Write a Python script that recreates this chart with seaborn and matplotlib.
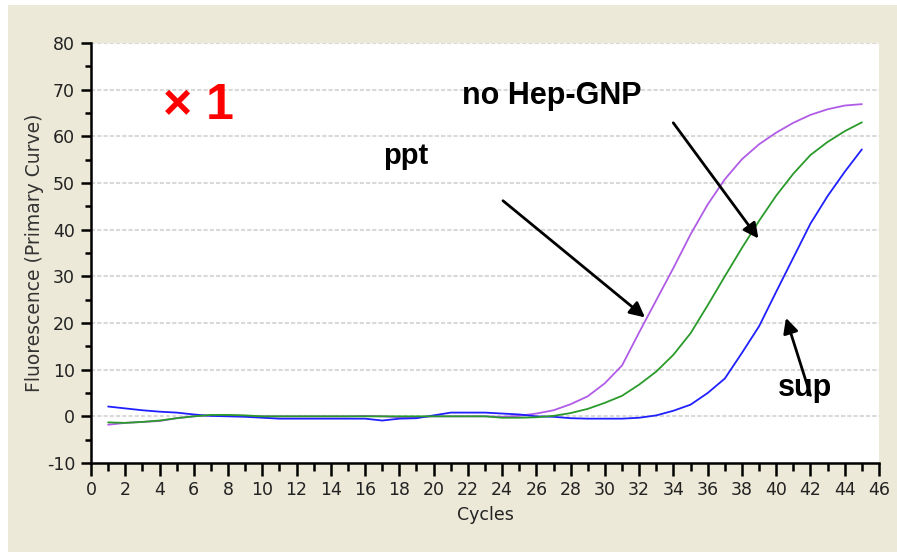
import matplotlib
matplotlib.use("Agg")
import matplotlib.pyplot as plt
from matplotlib import font_manager as fm
from matplotlib.patches import Rectangle
import seaborn as sns
import pandas as pd

# ---------------- data ----------------
cycles = list(range(1, 46))
ppt = [-1.8, -1.4, -1.2, -1.0, -0.4, 0.0, 0.2, 0.2, 0.1, 0.0,
       0.0, 0.0, 0.0, 0.0, 0.0, 0.1, 0.0, -0.2, -0.2, 0.0,
       0.0, 0.0, 0.0, -0.1, 0.1, 0.6, 1.3, 2.6, 4.3, 7.1,
       10.9, 18.0, 24.9, 31.8, 39.0, 45.4, 50.8, 55.1, 58.3, 60.8,
       62.9, 64.6, 65.8, 66.6, 66.9]
no_hep = [-1.3, -1.4, -1.2, -0.9, -0.4, 0.0, 0.3, 0.3, 0.2, 0.0,
          0.0, 0.0, 0.0, 0.0, 0.0, 0.0, 0.0, 0.0, 0.0, 0.0,
          0.0, 0.0, 0.0, -0.3, -0.3, -0.2, 0.1, 0.7, 1.6, 2.9,
          4.4, 6.8, 9.6, 13.2, 17.8, 23.8, 30.0, 36.1, 41.9, 47.3,
          52.0, 56.0, 58.8, 61.1, 63.0]
sup = [2.1, 1.7, 1.3, 1.0, 0.8, 0.4, 0.1, 0.0, -0.1, -0.3,
       -0.5, -0.5, -0.5, -0.5, -0.5, -0.5, -0.9, -0.5, -0.4, 0.2,
       0.8, 0.8, 0.8, 0.6, 0.4, 0.0, -0.1, -0.4, -0.5, -0.5,
       -0.5, -0.3, 0.2, 1.2, 2.5, 5.0, 8.1, 13.6, 19.3, 26.7,
       34.0, 41.3, 47.2, 52.4, 57.2]
series_names = ["ppt", "no Hep-GNP", "sup"]
series_colors = ["#B05CE6", "#2A9A2A", "#2020FF"]
x_ticks = list(range(0, 47, 2))
y_ticks = list(range(-10, 81, 10))

df = pd.concat([
    pd.DataFrame({"Cycles": cycles, "Fluorescence": vals, "Sample": name})
    for name, vals in zip(series_names, [ppt, no_hep, sup])
])

# ---------------- style ----------------
sns.set_style("white")
names = {f.name for f in fm.fontManager.ttflist}
narrow = None
for cand in ["Liberation Sans Narrow", "DejaVu Sans Condensed"]:
    if cand in names:
        narrow = cand
        break
base_family = ["DejaVu Sans"]
plt.rcParams["font.family"] = base_family
plt.rcParams["axes.unicode_minus"] = False
plt.rcParams["text.color"] = "black"
tick_family = [narrow] if narrow else ["DejaVu Sans"]
bold_family = ["Liberation Sans", "DejaVu Sans"]

W, H = 897, 557
fig = plt.figure(figsize=(W / 100, H / 100), dpi=100, facecolor="white")
fig.patches.append(Rectangle((8 / W, 5 / H), 1 - 8 / W, 1 - 10 / H,
                             transform=fig.transFigure, facecolor="#ECE9D8",
                             edgecolor="none", zorder=-10))
ax = fig.add_axes([91 / W, 1 - 463 / H, (879 - 91) / W, (463 - 43) / H])
ax.set_facecolor("white")

# gridlines
for yv in range(0, 81, 10):
    ax.axhline(yv, color="#D9D9D9", lw=1.5, ls=(0, (2, 1)), zorder=0)

sns.lineplot(data=df, x="Cycles", y="Fluorescence", hue="Sample",
             palette=dict(zip(series_names, series_colors)),
             hue_order=["ppt", "sup", "no Hep-GNP"],
             lw=1.3, legend=False, ax=ax, zorder=3)

ax.set_xlim(0, 46)
ax.set_ylim(-10, 80)
ax.set_xticks(x_ticks)
ax.set_xticks(range(1, 46, 2), minor=True)
ax.set_yticks(y_ticks)
ax.set_yticks(range(-5, 80, 10), minor=True)

for s in ["top", "right"]:
    ax.spines[s].set_visible(False)
for s in ["left", "bottom"]:
    ax.spines[s].set_color("black")
    ax.spines[s].set_linewidth(1.8)

ax.tick_params(which="both", bottom=True, left=True, top=False, right=False)
ax.tick_params(axis="x", which="major", length=9, width=1.8, color="black",
               direction="out", pad=4, labelsize=12.5, labelcolor="#222222")
ax.tick_params(axis="x", which="minor", length=6, width=1.8, color="black",
               direction="out")
ax.tick_params(axis="y", which="major", length=7.5, width=1.8, color="black",
               direction="out", pad=4, labelsize=12.5, labelcolor="#222222")
ax.tick_params(axis="y", which="minor", length=4.5, width=1.8, color="black",
               direction="out")
for lab in ax.get_xticklabels() + ax.get_yticklabels():
    lab.set_family(tick_family)

ax.set_xlabel("Cycles", fontsize=12.5, color="#222222", family=tick_family, labelpad=5)
ax.set_ylabel("Fluorescence (Primary Curve)", fontsize=13.5, color="#333333",
              family=base_family, labelpad=2)

# annotations
ax.text(6.3, 63.7, "× 1", color="#FF0000", fontsize=36, fontweight="bold",
        ha="center", va="baseline", family=bold_family, zorder=5)
ax.text(21.66, 66.9, "no Hep-GNP", color="black", fontsize=22, fontweight="bold",
        ha="left", va="baseline", family=bold_family, zorder=5)
ax.text(17.05, 54.1, "ppt", color="black", fontsize=21, fontweight="bold",
        ha="left", va="baseline", family=bold_family, zorder=5)
ax.text(40.12, 4.3, "sup", color="black", fontsize=22, fontweight="bold",
        ha="left", va="baseline", family=bold_family, zorder=5)

arrow_kw = dict(arrowstyle="-|>,head_length=0.9,head_width=0.45",
                color="black", lw=2.0, shrinkA=0, shrinkB=0)
ax.annotate("", xy=(32.34, 21.2), xytext=(24.05, 46.2), arrowprops=arrow_kw, zorder=6)
ax.annotate("", xy=(38.96, 38.1), xytext=(33.99, 62.9), arrowprops=arrow_kw, zorder=6)
ax.annotate("", xy=(40.57, 21.1), xytext=(42.0, 4.5), arrowprops=arrow_kw, zorder=6)

fig.savefig("out.png", dpi=100, facecolor=fig.get_facecolor())
